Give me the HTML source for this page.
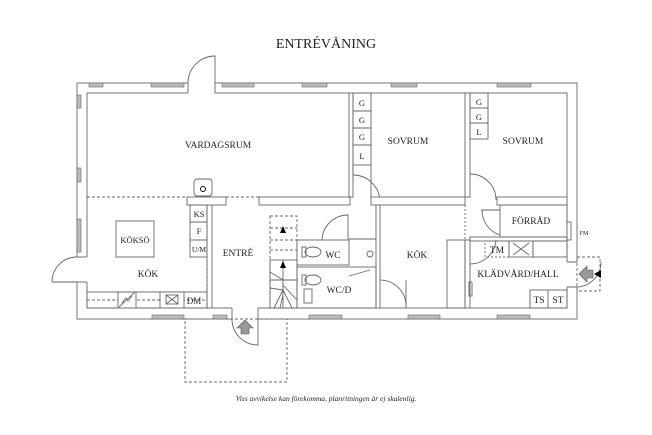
<!DOCTYPE html>
<html><head><meta charset="utf-8"><style>
body{margin:0;background:#fff;width:652px;height:435px;overflow:hidden}
svg{display:block}
text{font-family:"Liberation Serif",serif;fill:#222}
</style></head><body>
<svg width="652" height="435" viewBox="0 0 652 435" xmlns="http://www.w3.org/2000/svg">
<g fill="none" stroke="#666" stroke-width="0.9">
<!-- outer walls -->
<rect x="77" y="83" width="500" height="236" fill="#fff"/>
<rect x="87" y="93" width="480" height="215"/>
<!-- top door gap -->
<rect x="188" y="82" width="27" height="12" fill="#fff" stroke="none"/>
<line x1="188" y1="83" x2="188" y2="93"/><line x1="215" y1="83" x2="215" y2="93"/>
<path d="M188 83 A27 27 0 0 1 215 56 L215 83"/>
<!-- left door gap -->
<rect x="76" y="257" width="12" height="25" fill="#fff" stroke="none"/>
<line x1="77" y1="257" x2="87" y2="257"/><line x1="77" y1="282" x2="87" y2="282"/>
<path d="M77 257 A25 25 0 0 0 52 282 L77 282"/>
<!-- entry door -->
<rect x="232" y="307" width="26" height="13" fill="#fff" stroke="none"/>
<line x1="232" y1="308" x2="232" y2="319"/><line x1="258" y1="308" x2="258" y2="319"/>
<path d="M232 319 A26 26 0 0 0 258 345 L258 319"/>
<!-- right door bump -->
<rect x="566" y="262" width="12" height="25" fill="#fff" stroke="none"/>
<path d="M567 262 L577 262 M567 287 L577 287"/>
<path d="M577 287 A25 25 0 0 0 601 262"/>
<rect x="577" y="257" width="23" height="34" stroke-dasharray="3,2"/>
<!-- porch -->
<rect x="185" y="319" width="102" height="63" stroke-dasharray="3,2"/>
<!-- vardagsrum bottom -->
<line x1="87" y1="197" x2="187" y2="197" stroke-dasharray="3,2"/>
<rect x="187" y="197" width="39" height="8" fill="#fff"/>
<line x1="226" y1="197" x2="259" y2="197" stroke-dasharray="3,2"/>
<rect x="259" y="197" width="91" height="8" fill="#fff"/>
<rect x="194" y="179" width="18" height="17" rx="3"/>
<circle cx="203" cy="189" r="2.5" stroke="#000"/>
<!-- vardagsrum/sovrum wall -->
<rect x="349" y="93" width="4" height="104" fill="#fff"/>
<rect x="353" y="93" width="18" height="18"/><rect x="353" y="111" width="18" height="17"/>
<rect x="353" y="128" width="18" height="17"/><rect x="353" y="145" width="18" height="20"/>
<path d="M353 165 L353 175 M371 165 L371 197"/>
<path d="M353 175 A27 27 0 0 1 380 202"/>
<rect x="371" y="197" width="94" height="8" fill="#fff"/>
<rect x="465" y="93" width="5" height="104" fill="#fff"/>
<rect x="470" y="93" width="18" height="15"/><rect x="470" y="108" width="18" height="15"/><rect x="470" y="123" width="18" height="16"/>
<path d="M470 174 A26 26 0 0 1 496 200"/>
<rect x="497" y="197" width="70" height="8" fill="#fff"/>
<!-- förråd -->
<rect x="500" y="205" width="67" height="32"/>
<path d="M482 210 A26 26 0 0 0 500 235"/>
<line x1="481" y1="210" x2="500" y2="210"/>
<rect x="567" y="222" width="4" height="18" fill="#fff"/>
<!-- klädvård -->
<rect x="470" y="237" width="97" height="4"/>
<rect x="485" y="241" width="24" height="16" stroke-dasharray="2,2"/>
<rect x="509" y="241" width="24" height="16"/>
<path d="M513 243 L529 255 M529 243 L513 255"/>
<rect x="533" y="241" width="34" height="16"/>
<path d="M470 264 A26 26 0 0 0 496 240"/>
<rect x="530" y="290" width="37" height="18"/><line x1="548" y1="290" x2="548" y2="308"/>
<line x1="530" y1="290" x2="530" y2="308" stroke-dasharray="2,2"/>
<rect x="465" y="240" width="5" height="68" fill="#fff"/>
<line x1="465" y1="205" x2="465" y2="240" stroke-dasharray="2,2"/>
<rect x="469" y="282" width="3" height="14"/>
<!-- kök right -->
<rect x="376" y="205" width="4" height="103" fill="#fff"/>
<rect x="447" y="240" width="18" height="68"/>
<path d="M380 280 A26 26 0 0 1 406 306"/>
<line x1="406" y1="280" x2="406" y2="308"/>
<!-- wc -->
<rect x="297" y="240" width="52" height="25"/>
<rect x="297" y="267" width="79" height="41"/>
<path d="M322 240 A26 26 0 0 1 348 215 L348 240"/>
<ellipse cx="313" cy="252" rx="8" ry="5"/><rect x="302" y="247" width="4" height="10"/>
<ellipse cx="313" cy="280" rx="8" ry="5"/><rect x="302" y="275" width="4" height="10"/>
<rect x="304" y="289" width="8" height="14"/>
<line x1="349" y1="239" x2="376" y2="239"/>
<line x1="349" y1="276" x2="370" y2="270"/>
<circle cx="370" cy="254" r="3"/>
<!-- stairs -->
<rect x="270" y="216" width="27" height="92" stroke-dasharray="3,2"/>
<rect x="270" y="260" width="27" height="48"/>
<path d="M270 280 L297 280 M283 260 L283 308 M270 272 L283 280 M270 288 L283 290 M274 308 L283 290 M280 308 L283 295 M292 308 L283 290 M297 300 L283 285"/>
<path d="M270 228 L297 228 M270 240 L297 240 M270 250 L297 250" stroke-dasharray="3,2"/>
<!-- entré left wall -->
<rect x="207" y="205" width="5" height="103" fill="#fff"/>
<line x1="207" y1="260" x2="207" y2="292" stroke-dasharray="2,2"/>
<!-- kitchen left -->
<rect x="116" y="221" width="38" height="36"/>
<rect x="190" y="205" width="17" height="17"/><rect x="190" y="222" width="17" height="18"/><rect x="190" y="240" width="17" height="17"/>
<rect x="87" y="292" width="120" height="16"/>
<line x1="87" y1="300" x2="207" y2="300" stroke-dasharray="3,2"/>
<rect x="118" y="292" width="18" height="16" fill="#fff"/>
<path d="M119 307 L135 292 M122 303 L126 298 L128 301 L132 296"/>
<rect x="160" y="292" width="24" height="16" fill="#fff"/>
<rect x="166" y="295" width="12" height="9"/><path d="M166 295 L178 304 M178 295 L166 304"/>
</g>
<!-- windows -->
<g fill="#bbb" stroke="#666" stroke-width="0.6">
<rect x="89" y="83" width="14" height="4"/><rect x="151" y="83" width="33" height="4"/>
<rect x="222" y="83" width="32" height="4"/><rect x="302" y="83" width="25" height="4"/>
<rect x="391" y="83" width="26" height="4"/><rect x="497" y="83" width="34" height="4"/>
<rect x="152" y="315" width="32" height="4"/><rect x="213" y="315" width="14" height="4"/>
<rect x="309" y="315" width="33" height="4"/><rect x="408" y="315" width="32" height="4"/>
<rect x="497" y="315" width="33" height="4"/>
<rect x="77" y="95" width="4" height="13"/><rect x="77" y="168" width="4" height="14"/>
<rect x="77" y="219" width="4" height="33"/>
</g>
<path d="M245 320 L237 328 L241 328 L241 334 L249 334 L249 328 L253 328 Z" fill="#999" stroke="#555" stroke-width="0.6"/>
<path d="M579 274 L587 266 L587 270 L593 270 L593 278 L587 278 L587 282 Z" fill="#999" stroke="#555" stroke-width="0.6"/>
<path d="M594 274 L601 270 L601 278 Z" fill="#000"/>
<path d="M283 226 L280 233 L286 233 Z M283 261 L280 268 L286 268 Z" fill="#000"/>
<g font-size="9.5" text-anchor="middle">
<text x="326" y="48" font-size="14">ENTRÉVÅNING</text>
<text x="218" y="148">VARDAGSRUM</text>
<text x="408" y="144">SOVRUM</text>
<text x="523" y="144">SOVRUM</text>
<text x="135" y="243" font-size="8.5">KÖKSÖ</text>
<text x="148" y="277">KÖK</text>
<text x="238" y="256">ENTRÉ</text>
<text x="333" y="258">WC</text>
<text x="339" y="293">WC/D</text>
<text x="417" y="258">KÖK</text>
<text x="531" y="224">FÖRRÅD</text>
<text x="518" y="277">KLÄDVÅRD/HALL</text>
<text x="497" y="253">TM</text>
<text x="539" y="303">TS</text>
<text x="558" y="303">ST</text>
<text x="194" y="304" font-size="9">DM</text>
<text x="199" y="217" font-size="8.5">KS</text>
<text x="199" y="234" font-size="8.5">F</text>
<text x="199" y="252" font-size="7.5">U/M</text>
<text x="362" y="106" font-size="8.5">G</text><text x="362" y="123" font-size="8.5">G</text>
<text x="362" y="140" font-size="8.5">G</text><text x="362" y="159" font-size="8.5">L</text>
<text x="479" y="105" font-size="8.5">G</text><text x="479" y="120" font-size="8.5">G</text>
<text x="479" y="135" font-size="8.5">L</text>
<text x="584" y="235" font-size="6">FM</text>
<text x="326" y="401" font-size="7.5" font-style="italic">Viss avvikelse kan förekomma, planritningen är ej skalenlig.</text>
</g>
</svg>
</body></html>
